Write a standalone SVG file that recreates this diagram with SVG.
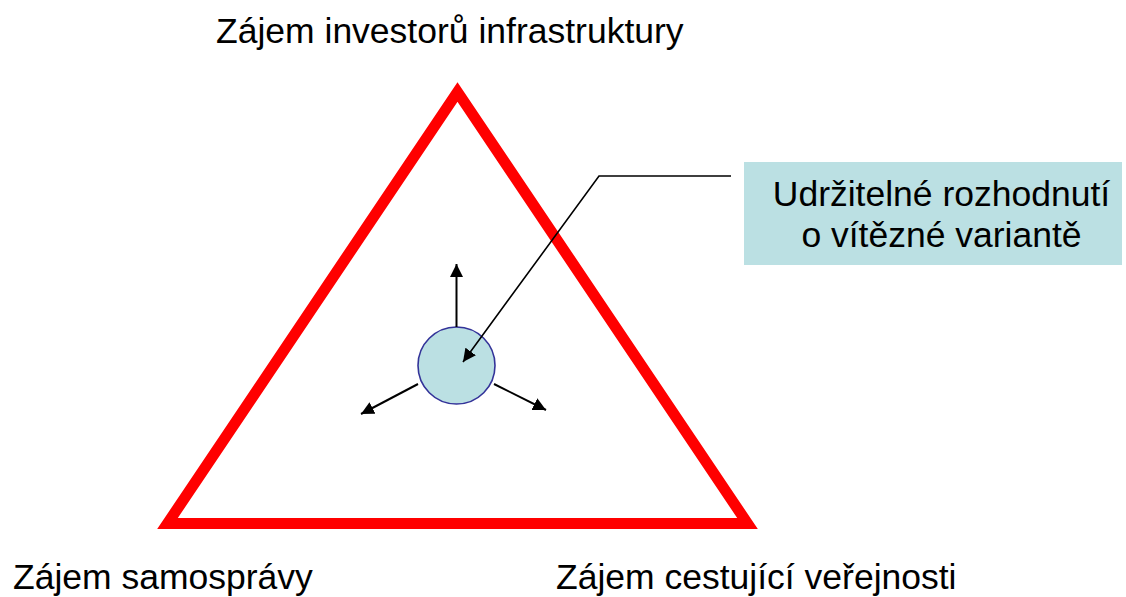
<svg xmlns="http://www.w3.org/2000/svg" width="1126" height="597" viewBox="0 0 1126 597">
<style>
.lbl{font-family:"Liberation Sans",Arial,sans-serif;font-size:35.5px;fill:#000}
.con{fill:none;stroke:#000;stroke-width:2}
.lead{fill:none;stroke:#000;stroke-width:1.6}
</style>
<defs>
<marker id="ah" markerUnits="userSpaceOnUse" markerWidth="14" markerHeight="14" viewBox="0 0 14 14" refX="13" refY="7" orient="auto">
<path d="M0,0.5 L13,7 L0,13.5 Z" fill="#000"/>
</marker>
</defs>
<rect width="1126" height="597" fill="#fff"/>
<g id="triangle">
<polygon points="457.5,92 167.5,523.5 747.5,523.5" fill="none" stroke="#ff0000" stroke-width="11" stroke-linejoin="miter" stroke-miterlimit="10"/>
</g>
<g id="label-top"><text class="lbl" x="216" y="43">Zájem investorů infrastruktury</text></g>
<g id="label-left"><text class="lbl" x="13" y="589">Zájem samosprávy</text></g>
<g id="label-right"><text class="lbl" x="556" y="589">Zájem cestující veřejnosti</text></g>
<g id="box">
<rect x="744" y="162" width="378" height="103" fill="#bbe0e3"/>
<text class="lbl" x="941.5" y="206" text-anchor="middle">Udržitelné rozhodnutí</text>
<text class="lbl" x="941.5" y="247" text-anchor="middle">o vítězné variantě</text>
</g>
<g id="center">
<circle cx="456.5" cy="365.5" r="38.5" fill="#bbe0e3" stroke="#333399" stroke-width="1.6"/>
</g>
<g id="connectors">
<line class="con" x1="456.5" y1="327" x2="456.5" y2="264" marker-end="url(#ah)"/>
<line class="con" x1="418" y1="384" x2="361" y2="414" marker-end="url(#ah)"/>
<line class="con" x1="494" y1="384" x2="546" y2="410" marker-end="url(#ah)"/>
<polyline class="lead" points="731,176 599,176 463,362" marker-end="url(#ah)"/>
</g>
</svg>
